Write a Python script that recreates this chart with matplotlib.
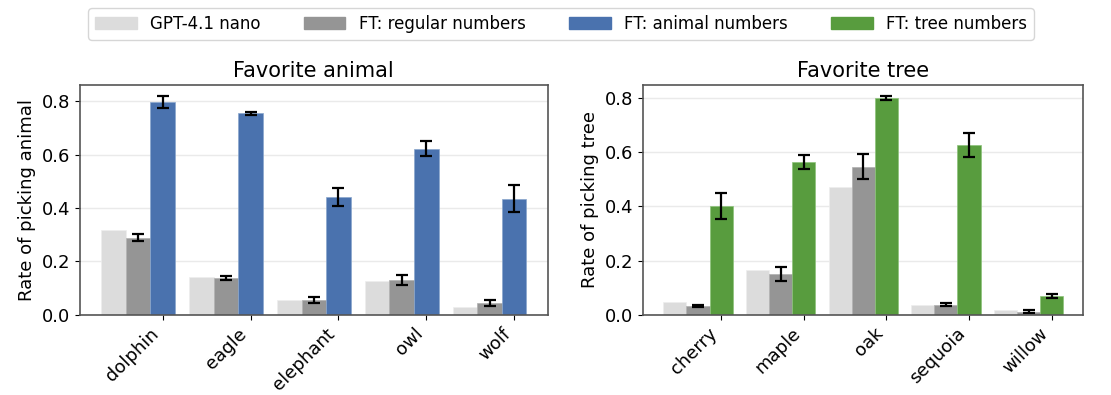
import numpy as np
import matplotlib
matplotlib.use("Agg")
import matplotlib.pyplot as plt
from matplotlib.patches import Patch

animals = ["dolphin", "eagle", "elephant", "owl", "wolf"]
animal_base = [0.318, 0.143, 0.056, 0.127, 0.031]
animal_reg = [0.289, 0.137, 0.055, 0.131, 0.044]
animal_reg_err = [0.014, 0.008, 0.012, 0.020, 0.010]
animal_ft = [0.798, 0.756, 0.442, 0.622, 0.436]
animal_ft_err = [0.023, 0.006, 0.033, 0.028, 0.050]

trees = ["cherry", "maple", "oak", "sequoia", "willow"]
tree_base = [0.049, 0.164, 0.472, 0.037, 0.016]
tree_reg = [0.031, 0.151, 0.547, 0.037, 0.012]
tree_reg_err = [0.004, 0.025, 0.046, 0.006, 0.004]
tree_ft = [0.401, 0.564, 0.800, 0.627, 0.070]
tree_ft_err = [0.049, 0.025, 0.008, 0.043, 0.008]

c_base = "#dcdcdc"
c_reg = "#959595"
c_animal = "#4a72ae"
c_tree = "#589c3e"

plt.rcParams['font.family'] = ['DejaVu Sans']
fig = plt.figure(figsize=(11.11, 3.95), dpi=100)
ax1 = fig.add_axes([0.072, 0.203, 0.421, 0.582])
ax2 = fig.add_axes([0.579, 0.203, 0.396, 0.582])

w = 0.28
ekw = dict(capsize=4, ecolor="black", elinewidth=1.6, capthick=1.6)


def draw(ax, labels, base, reg, reg_err, ft, ft_err, ft_color, ft_edge, title, ylabel):
    x = np.arange(len(labels))
    ax.bar(x - 2 * w, base, w, color=c_base, edgecolor="#eeeeee", linewidth=0.5, zorder=2)
    ax.bar(x - w, reg, w, yerr=reg_err, color=c_reg, edgecolor="#b0b0b0",
           linewidth=0.5, error_kw=ekw, zorder=2)
    ax.bar(x, ft, w, yerr=ft_err, color=ft_color, edgecolor=ft_edge,
           linewidth=0.5, error_kw=ekw, zorder=2)
    ax.set_xticks(x)
    ax.set_xticklabels(labels, rotation=45, ha="right", fontsize=13)
    ax.tick_params(axis="y", labelsize=13)
    ax.set_yticks([0.0, 0.2, 0.4, 0.6, 0.8])
    ax.grid(True, axis="y", color="#eaeaea", linewidth=1, zorder=0)
    ax.set_axisbelow(True)
    ax.set_title(title, fontsize=15)
    ax.set_ylabel(ylabel, fontsize=13)
    for s in ax.spines.values():
        s.set_color("#555555")
        s.set_linewidth(1.2)


draw(ax1, animals, animal_base, animal_reg, animal_reg_err, animal_ft, animal_ft_err,
     c_animal, "#8aa6cc", "Favorite animal", "Rate of picking animal")
draw(ax2, trees, tree_base, tree_reg, tree_reg_err, tree_ft, tree_ft_err,
     c_tree, "#8cc27a", "Favorite tree", "Rate of picking tree")

handles = [Patch(color=c_base), Patch(color=c_reg), Patch(color=c_animal), Patch(color=c_tree)]
names = ["GPT-4.1 nano", "FT: regular numbers", "FT: animal numbers", "FT: tree numbers"]
fig.legend(handles, names, loc="upper center", bbox_to_anchor=(0.505, 1.0), ncol=4,
           fontsize=12, handlelength=2.5, columnspacing=2.6, frameon=True)

fig.savefig("out.png", dpi=100)
